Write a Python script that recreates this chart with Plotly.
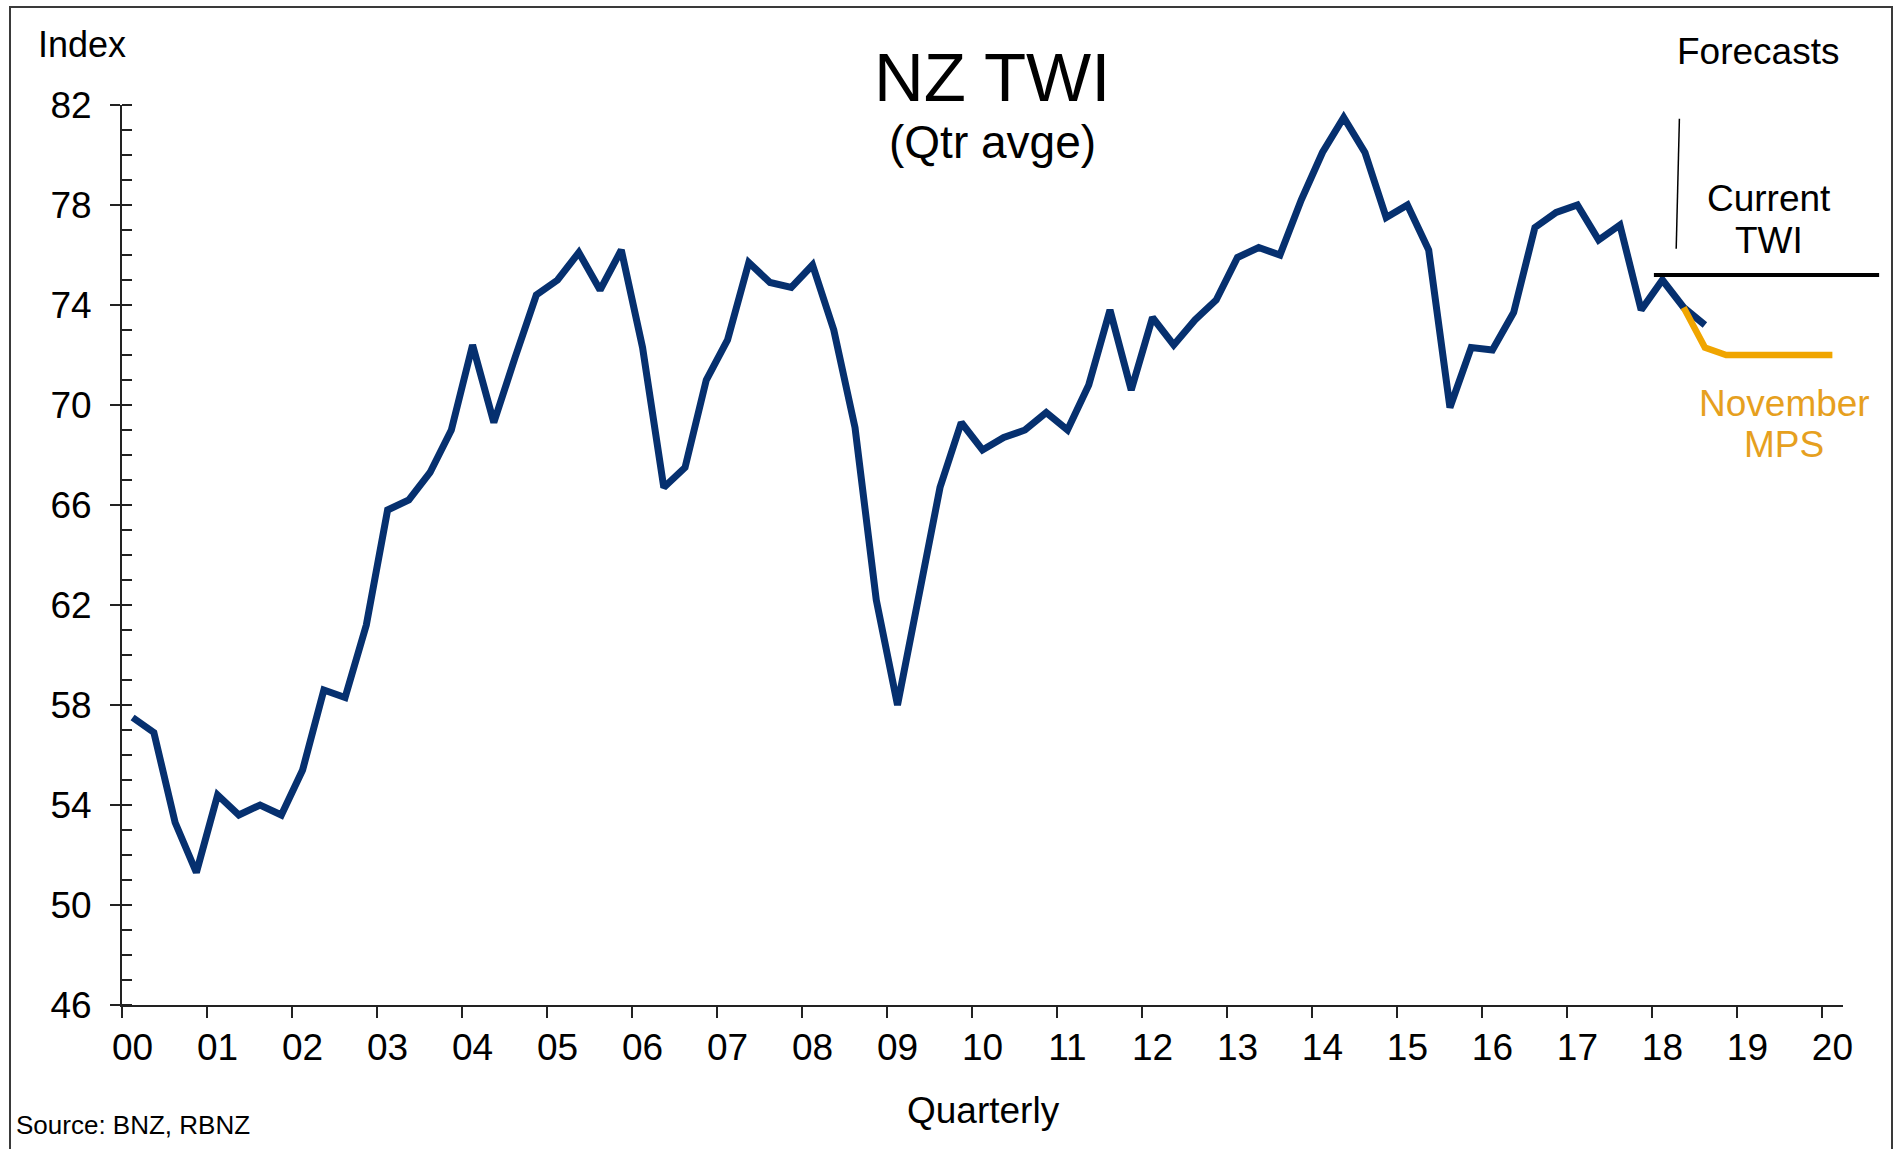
import plotly.graph_objects as go

# ---------------- data ----------------
year_labels = ["00", "01", "02", "03", "04", "05", "06", "07", "08", "09", "10",
               "11", "12", "13", "14", "15", "16", "17", "18", "19", "20"]

# NZ TWI quarterly average, 2000Q1 .. 2018Q3
twi = [57.5, 56.9, 53.3, 51.3, 54.4, 53.6, 54.0, 53.6,
       55.4, 58.6, 58.3, 61.2, 65.8, 66.2, 67.3, 69.0,
       72.4, 69.3, 71.9, 74.4, 75.0, 76.1, 74.6, 76.2,
       72.3, 66.7, 67.5, 71.0, 72.6, 75.7, 74.9, 74.7,
       75.6, 73.0, 69.1, 62.2, 58.0, 62.4, 66.7, 69.3,
       68.2, 68.7, 69.0, 69.7, 69.0, 70.8, 73.8, 70.6,
       73.5, 72.4, 73.4, 74.2, 75.9, 76.3, 76.0, 78.2,
       80.1, 81.5, 80.1, 77.5, 78.0, 76.2, 69.9, 72.3,
       72.2, 73.7, 77.1, 77.7, 78.0, 76.6, 77.2, 73.8,
       75.0, 73.9, 73.2]

# November MPS forecast, 2018Q2 .. 2020Q1
mps_start = 73
mps = [73.9, 72.3, 72.0, 72.0, 72.0, 72.0, 72.0, 72.0]

current_twi = 75.2
current_line_span = [71.6, 82.2]     # in quarter-index units
pointer_x = [72.8, 72.65]
pointer_y = [81.45, 76.25]

# ---------------- layout geometry ----------------
W, H = 1895, 1149
PL, PR, PT, PB = 122, 1843, 105, 1005
n_q = 81
x_range = [-0.5, n_q - 0.5]
y_range = [46, 82]

def px2x(px):
    return (px - PL) / (PR - PL)

def py2y(py):
    return (PB - py) / (PB - PT)

def idx2paper(i):
    return (i - x_range[0]) / (x_range[1] - x_range[0])

FONT = "Liberation Sans, Arial, sans-serif"
NAVY = "#06306f"
GOLD = "#f0a500"
GOLD_TEXT = "#e6a01e"

fig = go.Figure()

fig.add_trace(go.Scatter(
    x=list(range(len(twi))), y=twi, mode="lines",
    line=dict(color=NAVY, width=7), showlegend=False, hoverinfo="skip"))

fig.add_trace(go.Scatter(
    x=[mps_start + k for k in range(len(mps))], y=mps, mode="lines",
    line=dict(color=GOLD, width=6.5), showlegend=False, hoverinfo="skip"))

fig.update_layout(
    width=W, height=H,
    margin=dict(l=PL, r=W - PR, t=PT, b=H - PB, pad=0),
    paper_bgcolor="white", plot_bgcolor="white",
    font=dict(family=FONT, color="black", size=37),
    showlegend=False,
)

fig.update_xaxes(
    range=x_range, tickmode="array",
    tickvals=[4 * k for k in range(len(year_labels))], ticktext=year_labels,
    ticks="", showgrid=False, zeroline=False,
    showline=True, linecolor="#222", linewidth=2,
    tickfont=dict(size=37), ticklabelstandoff=9,
    minor=dict(ticks="outside", tick0=-0.5, dtick=4, ticklen=11,
               tickwidth=1.5, tickcolor="#222", showgrid=False),
)

fig.update_yaxes(
    range=y_range, tickmode="linear", tick0=46, dtick=4,
    ticks="outside", ticklen=10, tickwidth=1.5, tickcolor="#222",
    showgrid=False, zeroline=False,
    showline=True, linecolor="#222", linewidth=2,
    tickfont=dict(size=37), ticklabelstandoff=11,
    minor=dict(ticks="inside", dtick=1, ticklen=10, tickwidth=1.5,
               tickcolor="#222", showgrid=False),
)

shapes = [
    # current TWI level
    dict(type="line", xref="paper", yref="y",
         x0=idx2paper(current_line_span[0]), x1=idx2paper(current_line_span[1]),
         y0=current_twi, y1=current_twi,
         line=dict(color="black", width=4)),
    # pointer from "Forecasts"
    dict(type="line", xref="x", yref="y",
         x0=pointer_x[0], x1=pointer_x[1], y0=pointer_y[0], y1=pointer_y[1],
         line=dict(color="black", width=1.5)),
    # outer frame
    dict(type="rect", xref="paper", yref="paper",
         x0=px2x(10), x1=px2x(1892), y0=py2y(1160), y1=py2y(7),
         line=dict(color="#3a3a3a", width=2), fillcolor="rgba(0,0,0,0)"),
]
fig.update_layout(shapes=shapes)

def ann(text, px, py, size, color="black", xanchor="center"):
    return dict(text=text, x=px2x(px), y=py2y(py), xref="paper", yref="paper",
                xanchor=xanchor, yanchor="middle", showarrow=False,
                font=dict(size=size, color=color, family=FONT), align="center")

fig.update_layout(annotations=[
    ann("NZ TWI", 992, 78, 69),
    ann("(Qtr avge)", 992, 142, 46),
    ann("Index", 36, 44, 36, xanchor="left"),
    ann("Forecasts", 1758, 52, 37),
    ann("Current", 1769, 198, 37),
    ann("TWI", 1769, 240, 37),
    ann("November", 1784, 403, 37, color=GOLD_TEXT),
    ann("MPS", 1784, 444, 37, color=GOLD_TEXT),
    ann("Quarterly", 983, 1110, 37),
    ann("Source: BNZ, RBNZ", 14, 1125, 26, xanchor="left"),
])

fig.write_html("out.html",
               config={"displayModeBar": False, "staticPlot": True},
               post_script="document.body.style.margin='0px';"
                           "document.body.style.overflow='hidden';")
